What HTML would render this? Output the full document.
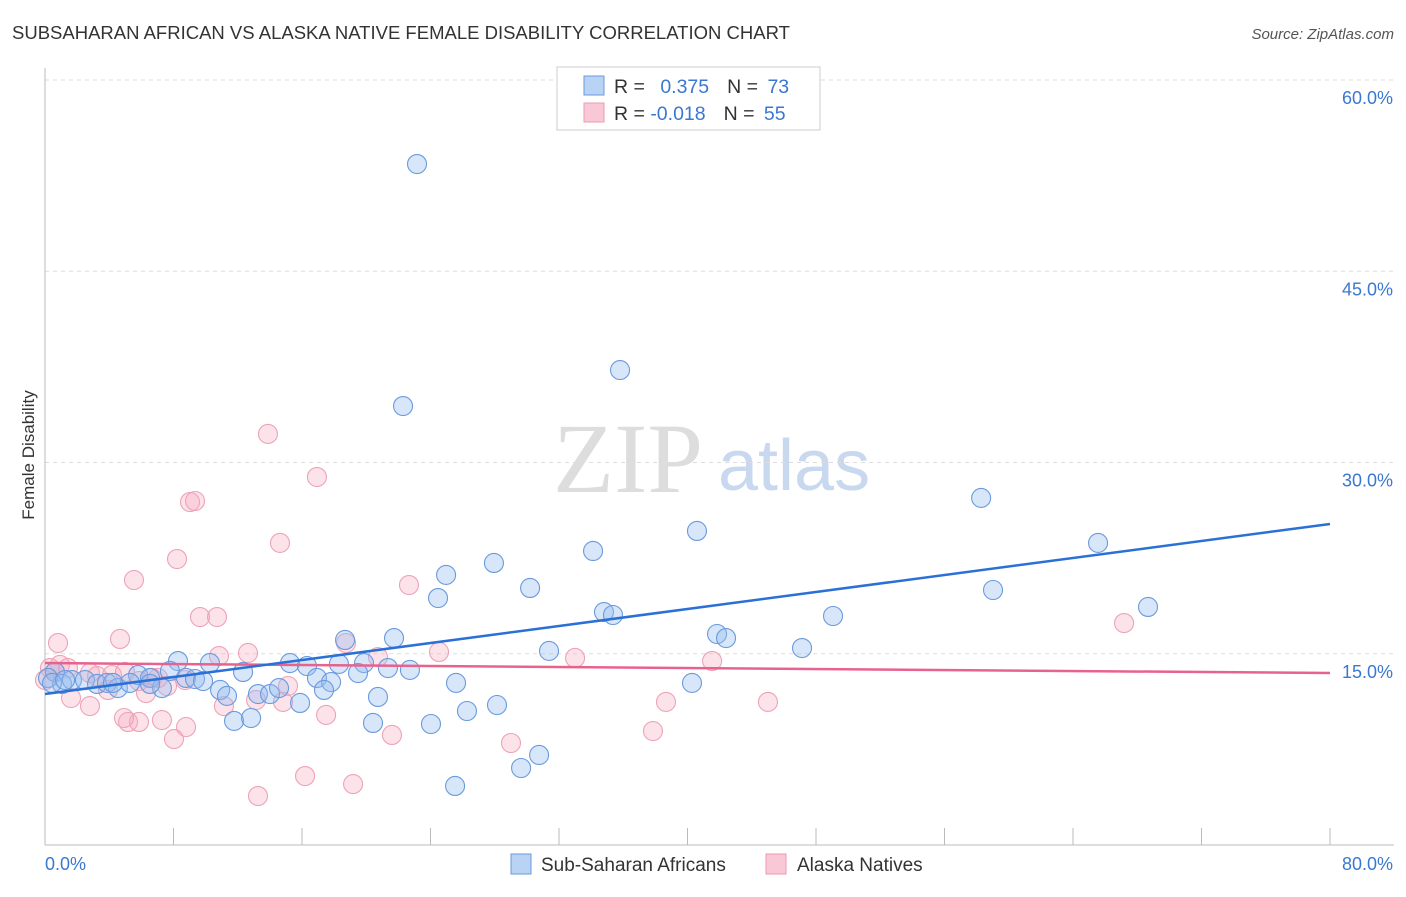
<!DOCTYPE html>
<html><head><meta charset="utf-8"><style>
body{margin:0;background:#fff;font-family:"Liberation Sans",sans-serif;}
svg text{font-family:"Liberation Sans",sans-serif;}
</style></head><body>
<svg id="chart" width="1406" height="892" xmlns="http://www.w3.org/2000/svg">
<text x="12" y="39" font-size="18.5" fill="#333">SUBSAHARAN AFRICAN VS ALASKA NATIVE FEMALE DISABILITY CORRELATION CHART</text>
<text x="1394" y="39" font-size="15" fill="#555" text-anchor="end" font-style="italic">Source: ZipAtlas.com</text>
<g>
<text x="553" y="492" font-size="100" fill="#ddd" style="font-family:'Liberation Serif',serif">ZIP</text>
<text x="718" y="490" font-size="72" fill="#c8d8ee">atlas</text>
</g>
<g id="grid"></g>
<g id="axes"></g>
<g id="marks"></g>
<text transform="translate(34,455) rotate(-90)" font-size="17" fill="#333" text-anchor="middle">Female Disability</text>
<g>
<rect x="557" y="67" width="263" height="63" fill="#fff" stroke="#ccc"/>
<rect x="584" y="76" width="20" height="19" fill="#b9d3f5" stroke="#6a9ade"/>
<rect x="584" y="103" width="20" height="19" fill="#f9c8d6" stroke="#eb9ab2"/>
<text x="614" y="93" font-size="19.5" fill="#333">R = <tspan fill="#3a78d0" dx="10">0.375</tspan><tspan dx="18" fill="#333">N = </tspan><tspan fill="#3a78d0" dx="4">73</tspan></text>
<text x="614" y="120" font-size="19.5" fill="#333">R = <tspan fill="#3a78d0">-0.018</tspan><tspan dx="18" fill="#333">N = </tspan><tspan fill="#3a78d0" dx="4">55</tspan></text>
</g>
<g>
<rect x="511" y="854" width="20" height="20" fill="#b9d3f5" stroke="#6a9ade"/>
<text x="541" y="871" font-size="19" fill="#333">Sub-Saharan Africans</text>
<rect x="766" y="854" width="20" height="20" fill="#f9c8d6" stroke="#eb9ab2"/>
<text x="797" y="871" font-size="19" fill="#333">Alaska Natives</text>
</g>
</svg>
<script>
const yTicks=[15,30,45,60];
const yTickLabels=["15.0%","30.0%","45.0%","60.0%"];
const xTicks=[0,8,16,24,32,40,48,56,64,72,80];
const blueX=[23.16,35.80,22.29,58.28,40.59,65.56,34.12,27.95,24.97,30.20,59.02,24.47,68.67,34.80,35.36,49.06,41.84,42.40,18.68,21.73,47.13,31.38,8.28,10.27,15.25,16.31,18.30,19.86,21.35,22.72,12.33,7.78,5.79,6.54,8.78,9.34,9.84,16.93,17.81,19.49,25.59,40.28,0.62,1.06,1.68,2.49,3.24,3.86,4.54,5.29,7.28,10.90,11.33,13.26,14.01,14.57,15.88,17.37,20.73,26.27,28.14,11.77,12.83,20.42,24.03,30.76,29.64,25.53,0.19,0.44,1.25,4.23,6.54];
const blueY=[53.41,37.25,34.43,27.22,24.63,23.69,23.06,22.12,21.18,20.16,20.00,19.37,18.67,18.27,18.04,17.96,16.55,16.23,16.08,16.23,15.45,15.22,14.43,14.27,14.27,14.04,14.20,14.27,13.88,13.73,13.57,13.65,13.33,13.10,13.10,13.02,12.86,13.10,12.78,13.49,12.71,12.71,13.57,12.63,12.94,12.94,12.63,12.71,12.31,12.71,12.31,12.16,11.69,11.84,11.84,12.31,11.14,12.16,11.61,10.51,10.98,9.73,9.96,9.57,9.49,7.06,6.04,4.63,13.10,12.71,12.94,12.71,12.63];
const pinkX=[13.88,16.93,9.03,9.34,14.63,8.22,22.66,5.54,9.65,10.71,67.18,0.81,4.67,18.74,12.64,10.83,24.53,33.00,41.53,20.73,0.93,1.43,2.80,3.24,4.17,4.98,5.85,7.04,7.60,8.72,6.66,3.92,6.29,15.13,1.62,2.80,11.14,14.82,13.14,38.66,45.01,5.17,5.85,7.28,4.92,8.78,17.50,21.60,37.85,8.03,29.01,16.19,19.18,13.26,0.31,0.62,0];
const pinkY=[32.24,28.86,26.90,26.98,23.69,22.43,20.39,20.78,17.88,17.88,17.41,15.84,16.16,15.84,15.06,14.82,15.14,14.67,14.43,14.74,14.12,13.88,13.49,13.25,13.33,13.57,12.86,13.10,12.47,12.94,13.10,12.16,11.92,12.47,11.53,10.90,10.90,11.22,11.37,11.22,11.22,9.65,9.65,9.80,9.96,9.25,10.20,8.63,8.94,8.31,8.00,5.41,4.78,3.84,13.88,13.57,12.94];
const blueTrendX=[0,80], blueTrendY=[11.84,25.18];
const pinkTrendX=[0,80], pinkTrendY=[14.27,13.49];

const NS="http://www.w3.org/2000/svg";
const X0=45,X1=1330,Y0=845,PPY=12.75;
const sx=v=>X0+(X1-X0)*v/80;
const sy=v=>Y0-v*PPY;
function mk(tag,attrs,parent){const e=document.createElementNS(NS,tag);for(const k in attrs)e.setAttribute(k,attrs[k]);document.getElementById(parent).appendChild(e);return e;}
yTicks.forEach((t,i)=>{
  const g=mk('line',{x1:X0,x2:1394,y1:sy(t),y2:sy(t),stroke:'#ddd','stroke-dasharray':'4,4'},'grid');
  
  
  const l=mk('text',{x:1393,y:sy(t)+24,'font-size':18,fill:'#3a78d0','text-anchor':'end'},'axes');
  l.textContent=yTickLabels[i];
  
  
});
const ya=mk('line',{x1:X0,x2:X0,y1:68,y2:Y0,stroke:'#bbb'},'axes');


const xa=mk('line',{x1:X0,x2:1394,y1:Y0,y2:Y0,stroke:'#bbb'},'axes');


xTicks.forEach(t=>{
  const k=mk('line',{x1:sx(t),x2:sx(t),y1:828,y2:Y0,stroke:'#bbb'},'axes');
  
  
});
const xl0=mk('text',{x:45,y:870,'font-size':18,fill:'#3a78d0'},'axes');xl0.textContent='0.0%';


const xl1=mk('text',{x:1393,y:870,'font-size':18,fill:'#3a78d0','text-anchor':'end'},'axes');xl1.textContent='80.0%';


pinkX.forEach((v,i)=>{
  const c=mk('circle',{cx:sx(v),cy:sy(pinkY[i]),r:9.5,fill:'rgba(245,170,192,0.33)',stroke:'#eea2b8','stroke-width':1.1},'marks');
  
  
});
blueX.forEach((v,i)=>{
  const c=mk('circle',{cx:sx(v),cy:sy(blueY[i]),r:9.5,fill:'rgba(150,190,240,0.38)',stroke:'#6a9ade','stroke-width':1.1},'marks');
  
  
});
const pt=mk('line',{x1:sx(pinkTrendX[0]),y1:sy(pinkTrendY[0]),x2:sx(pinkTrendX[1]),y2:sy(pinkTrendY[1]),stroke:'#e8628e','stroke-width':2.5},'marks');


const bt=mk('line',{x1:sx(blueTrendX[0]),y1:sy(blueTrendY[0]),x2:sx(blueTrendX[1]),y2:sy(blueTrendY[1]),stroke:'#2a70d6','stroke-width':2.5},'marks');


</script>
</body></html>
